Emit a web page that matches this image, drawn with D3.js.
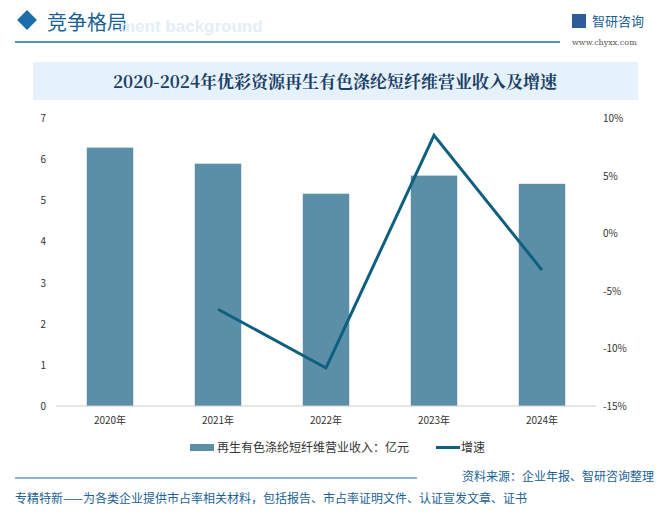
<!DOCTYPE html><html><head><meta charset="utf-8"><script src="https://cdn.jsdelivr.net/npm/d3@7"></script>
<style>body{margin:0;background:#fff;font-family:"Noto Sans CJK SC",sans-serif}</style></head><body><svg id="c" width="669" height="515"></svg>
<script>
const years=["2020年","2021年","2022年","2023年","2024年"];
const revenue=[6.28,5.89,5.16,5.60,5.40];
const growth=[null,-6.6,-11.7,8.5,-3.2];
const leftTicks=[0,1,2,3,4,5,6,7];
const rightTicks=[-15,-10,-5,0,5,10];
const svg=d3.select("#c");
const F="Noto Sans CJK SC";
// header
svg.append("rect").attr("x",20).attr("y",13).attr("width",14).attr("height",14).attr("fill","#1a6fa8").attr("transform","rotate(45 27 20)");
svg.append("text").attr("x",47).attr("y",30).attr("font-size",20).attr("fill","#1a5f95").attr("font-family",F).text("竞争格局");
svg.append("text").attr("x",120).attr("y",32).attr("font-size",17).attr("font-weight","bold").attr("fill","#e3eef7").attr("font-family","Liberation Sans").text("ment background");
svg.append("line").attr("x1",15).attr("x2",560).attr("y1",42).attr("y2",42).attr("stroke","#1a6fa8").attr("stroke-width",1.5);
svg.append("text").attr("x",592).attr("y",26).attr("font-size",13).attr("fill","#1a5f95").attr("font-family",F).text("智研咨询");
svg.append("rect").attr("x",572).attr("y",14).attr("width",14).attr("height",14).attr("fill","#2c5d9a");
svg.append("text").attr("x",572).attr("y",45).attr("font-size",8).attr("fill","#555").attr("font-family","DejaVu Serif").text("www.chyxx.com");
svg.append("rect").attr("x",33).attr("y",62).attr("width",605).attr("height",38).attr("fill","#e6f2fb");
svg.append("text").attr("x",335).attr("y",88).attr("text-anchor","middle").attr("font-size",17).attr("font-weight","bold").attr("fill","#1b3f66").attr("font-family","Noto Serif CJK SC, Noto Sans CJK SC").text("2020-2024年优彩资源再生有色涤纶短纤维营业收入及增速");
// chart
const x=d3.scaleBand().domain(years).range([56,596]).paddingInner(0.57).paddingOuter(0.285);
const y=d3.scaleLinear().domain([0,7]).range([406,118]);
const y2=d3.scaleLinear().domain([-15,10]).range([406,118]);
svg.selectAll(".b").data(revenue).enter().append("rect").attr("x",(d,i)=>x(years[i])).attr("width",x.bandwidth()).attr("y",d=>y(d)).attr("height",d=>406-y(d)).attr("fill","#5b8fa8");
svg.append("line").attr("x1",56).attr("x2",596).attr("y1",406).attr("y2",406).attr("stroke","#ccc");
leftTicks.forEach(t=>svg.append("text").attr("x",46).attr("y",y(t)+4).attr("text-anchor","end").attr("font-size",10).attr("fill","#333").attr("font-family",F).text(t));
rightTicks.forEach(t=>svg.append("text").attr("x",603).attr("y",y2(t)+4).attr("font-size",10).attr("fill","#333").attr("font-family",F).text(t+"%"));
years.forEach(t=>svg.append("text").attr("x",x(t)+x.bandwidth()/2).attr("y",424).attr("text-anchor","middle").attr("font-size",10).attr("fill","#333").attr("font-family",F).text(t));
const pts=growth.map((g,i)=>[g,i]).filter(d=>d[0]!==null);
svg.append("path").attr("d",d3.line().x(d=>x(years[d[1]])+x.bandwidth()/2).y(d=>y2(d[0]))(pts)).attr("fill","none").attr("stroke","#0f5f80").attr("stroke-width",3);
// legend
svg.append("rect").attr("x",190).attr("y",444).attr("width",24).attr("height",7).attr("fill","#5b8fa8");
svg.append("text").attr("x",217).attr("y",452).attr("font-size",12).attr("fill","#333").attr("font-family",F).text("再生有色涤纶短纤维营业收入：亿元");
svg.append("line").attr("x1",436).attr("x2",460).attr("y1",447.5).attr("y2",447.5).attr("stroke","#0f5f80").attr("stroke-width",3);
svg.append("text").attr("x",461).attr("y",452).attr("font-size",12).attr("fill","#333").attr("font-family",F).text("增速");
svg.append("line").attr("x1",15).attr("x2",417).attr("y1",478).attr("y2",478).attr("stroke","#1a6fa8").attr("stroke-width",1);
svg.append("text").attr("x",654).attr("y",481).attr("text-anchor","end").attr("font-size",12).attr("fill","#1a5f95").attr("font-family",F).text("资料来源：企业年报、智研咨询整理");
svg.append("text").attr("x",15).attr("y",503).attr("font-size",12).attr("fill","#1a5f95").attr("font-family",F).text("专精特新——为各类企业提供市占率相关材料，包括报告、市占率证明文件、认证宣发文章、证书");
</script></body></html>
